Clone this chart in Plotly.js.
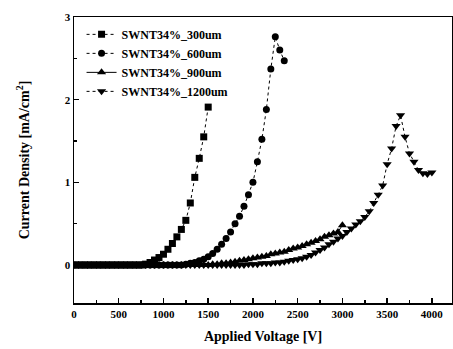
<!DOCTYPE html>
<html><head><meta charset="utf-8">
<script src="https://cdn.plot.ly/plotly-3.0.1.min.js"></script>
<style>html,body{margin:0;padding:0;background:#fff}#c{width:453px;height:349px}</style>
</head><body><div id="c"></div>
<script>
const voltage = [0,50,100,150,200,250,300,350,400,450,500,550,600,650,700,750,800,850,900,950,
1000,1050,1100,1150,1200,1250,1300,1350,1400,1450,1500,1550,1600,1650,1700,1750,1800,1850,1900,1950,
2000,2050,2100,2150,2200,2250,2300,2350,2400,2450,2500,2550,2600,2650,2700,2750,2800,2850,2900,2950,
3000,3050,3100,3150,3200,3250,3300,3350,3400,3450,3500,3550,3600,3650,3700,3750,3800,3850,3900,3950,4000];

const seriesNames = ["SWNT34%_300um","SWNT34%_600um","SWNT34%_900um","SWNT34%_1200um"];

const j300 = [0,0,0,0,0,0,0,0,0,0,0,0,0,0,0,0,
0.01,0.03,0.06,0.09,0.13,0.19,0.26,0.34,0.43,0.54,0.75,1.06,1.29,1.55,1.91];

const j600 = [0,0,0,0,0,0,0,0,0,0,0,0,0,0,0,0,0,0,0,0,0,0,0,0,0,
0.01,0.02,0.03,0.05,0.07,0.10,0.14,0.19,0.25,0.32,0.40,0.50,0.59,0.71,0.85,1.00,1.25,1.52,1.88,2.37,2.76,2.60,2.47];

const j900 = [0,0,0,0,0,0,0,0,0,0,0,0,0,0,0,0,0,0,0,0,0,0,0,0,0,0,0,0,0,0,0,
0.01,0.01,0.02,0.02,0.03,0.04,0.05,0.06,0.07,0.08,0.09,0.10,0.11,0.13,0.14,0.15,0.16,0.18,0.20,
0.21,0.23,0.25,0.27,0.29,0.31,0.34,0.36,0.38,0.40,0.48];

const j1200 = [0,0,0,0,0,0,0,0,0,0,0,0,0,0,0,0,0,0,0,0,0,0,0,0,0,0,0,0,0,0,0,0,0,0,0,0,0,0,0,
0.01,0.01,0.01,0.02,0.02,0.02,0.03,0.03,0.04,0.05,0.06,0.07,0.08,0.10,0.12,0.15,0.18,0.21,0.25,0.28,0.32,
0.35,0.40,0.44,0.49,0.53,0.58,0.65,0.75,0.85,0.96,1.22,1.41,1.68,1.81,1.55,1.35,1.25,1.15,1.11,1.10,1.12];

const yData = [j300, j600, j900, j1200];
const symbols = ["square","circle","triangle-up","triangle-down"];
const dashes = ["dot","dot","solid","dot"];
const sizes = [7,7,8,8];

const traces = yData.map((y,i)=>({
  x: voltage.slice(0, y.length), y: y, name: seriesNames[i],
  type: "scatter", mode: "lines+markers",
  line: {color:"#000", width:1, dash: dashes[i]},
  marker: {color:"#000", symbol: symbols[i], size: sizes[i]}
}));

const fnt = {family:"Liberation Serif, Times New Roman, serif", color:"#000", weight:"bold"};

const layout = {
  width:453, height:349,
  margin:{l:74, r:1, t:17, b:46},
  paper_bgcolor:"#fff", plot_bgcolor:"#fff",
  showlegend:true,
  legend:{x:0.02, y:0.99, xanchor:"left", yanchor:"top", bgcolor:"rgba(0,0,0,0)",
    font:Object.assign({size:12}, fnt), tracegroupgap:0, itemwidth:30},
  xaxis:{range:[0,4225], tickvals:[0,500,1000,1500,2000,2500,3000,3500,4000],
    ticks:"inside", ticklen:5, tickwidth:1.5, tickcolor:"#000",
    minor:{dtick:250, ticks:"inside", ticklen:3, tickcolor:"#000"},
    showline:true, linecolor:"#000", linewidth:1.5, mirror:true, showgrid:false, zeroline:false,
    tickfont:Object.assign({size:11}, fnt),
    title:{text:"Applied Voltage [V]", font:Object.assign({size:14}, fnt), standoff:12}},
  yaxis:{range:[-0.46,3], tickvals:[0,1,2,3],
    ticks:"inside", ticklen:5, tickwidth:1.5, tickcolor:"#000",
    minor:{dtick:0.5, ticks:"inside", ticklen:3, tickcolor:"#000"},
    showline:true, linecolor:"#000", linewidth:1.5, mirror:true, showgrid:false, zeroline:false,
    tickfont:Object.assign({size:11}, fnt),
    title:{text:"Current Density [mA/cm<sup>2</sup>]", font:Object.assign({size:14}, fnt), standoff:32}}
};

Plotly.newPlot("c", traces, layout, {displayModeBar:false, staticPlot:true});
</script></body></html>
